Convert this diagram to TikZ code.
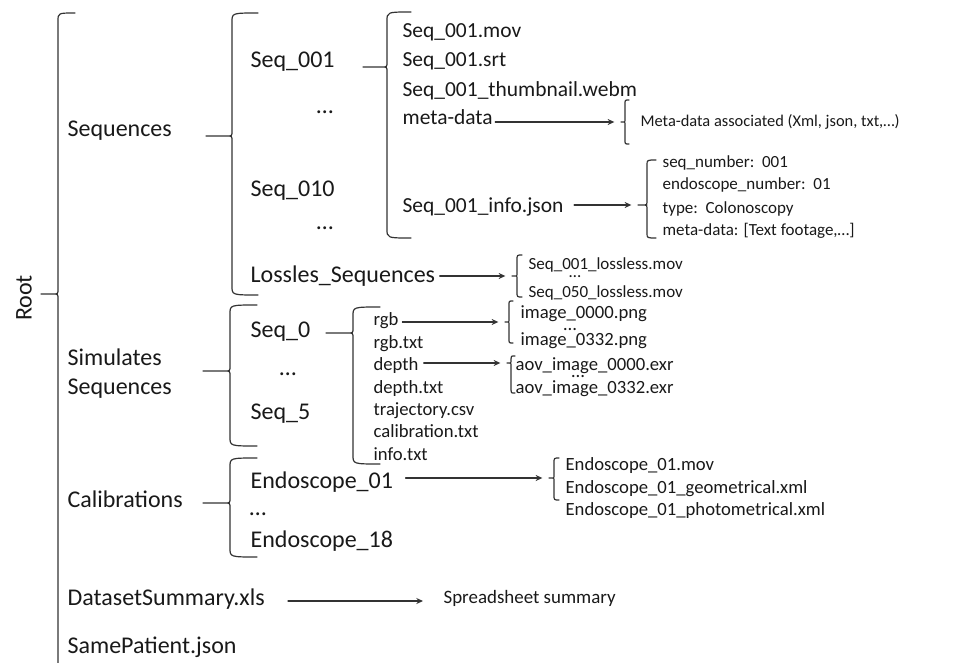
\documentclass[tikz,border=0pt]{standalone}
\usepackage{fontspec}
\setmainfont{Carlito}
\usetikzlibrary{arrows.meta}
% curly brace: name of tip, spine x, top y, tip y, bottom y, reach, end curl, tip curl
\newcommand{\curly}[8]{%
  \draw (#2+#6,#3) .. controls (#2,#3) .. (#2,#3+#7) -- (#2,#4-#8)
    .. controls (#2,#4) .. (#2-#8,#4) -- (#2-#6,#4) coordinate (#1) -- (#2-#8,#4)
    .. controls (#2,#4) .. (#2,#4+#8) -- (#2,#5-#7)
    .. controls (#2,#5) .. (#2+#6,#5);}
\begin{document}
\begin{tikzpicture}[x=0.75pt,y=-0.75pt,>={Stealth[length=5pt,width=4.5pt]},
  line join=round,line cap=round,line width=0.9pt,draw=black!80,
  txt/.style={anchor=base west,inner sep=0pt,text=black!90},
  big/.style={txt,font=\fontsize{18}{20}\selectfont},
  mid/.style={txt,font=\fontsize{16.1}{18}\selectfont},
  sml/.style={txt,font=\fontsize{14}{16}\selectfont},
  tny/.style={txt,font=\fontsize{12.75}{15}\selectfont},
  arr/.style={->,shorten >=5pt}]
\useasboundingbox (0,0) rectangle (974,663);
% braces
\curly{roottip}{58}{13}{294}{700}{17}{8}{5}
\curly{seqstip}{232}{13}{136}{295}{26}{9}{5}
\curly{seq1tip}{387}{12}{67}{238}{24}{9}{5}
\curly{metatip}{625}{100}{122}{144}{4}{4}{2}
\curly{infotip}{647}{160}{205}{238}{9}{5}{3}
\curly{losstip}{517}{255}{276}{297}{5}{5}{2}
\curly{simtip}{230}{305}{371}{446}{27}{9}{5}
\curly{seq0tip}{353}{307}{333}{464}{27}{9}{5}
\curly{rgbtip}{509}{301}{322}{343}{4}{4}{2}
\curly{depthtip}{511}{356}{363}{393}{4}{3}{2}
\curly{caltip}{230}{458}{503}{557}{27}{9}{5}
\curly{endotip}{554}{458}{478}{500}{5}{5}{2}
% level 0 and 1
\node[font=\fontsize{18}{20}\selectfont,rotate=90,text=black!90] (root) at (24,298) {Root};
\node[big] (seqs) at (67,137) {Sequences};
\node[big] (sim1) at (67,365) {Simulates};
\node[big] (sim2) at (67,394) {Sequences};
\node[big] (calib) at (67,507) {Calibrations};
\node[big] (summary) at (67,605) {DatasetSummary.xls};
\node[big] (samepat) at (67,653) {SamePatient.json};
% level 2
\node[big] (seq001) at (250,68) {Seq\_001};
\node[big,anchor=base] (dotsA) at (325,114) {…};
\node[big] (seq010) at (250,196) {Seq\_010};
\node[big,anchor=base] (dotsB) at (325,229) {…};
\node[big] (lossless) at (250,282) {Lossles\_Sequences};
\node[big] (seq0) at (250,337) {Seq\_0};
\node[big,anchor=base] (dotsC) at (288,375) {…};
\node[big] (seq5) at (250,419) {Seq\_5};
\node[big] (endo01) at (250,488) {Endoscope\_01};
\node[big,anchor=base] (dotsD) at (258,515) {…};
\node[big] (endo18) at (250,547) {Endoscope\_18};
% files of Seq_001
\node[mid] (mov) at (402,38) {Seq\_001.mov};
\node[mid] (srt) at (402,67) {Seq\_001.srt};
\node[mid] (thumb) at (402,97) {Seq\_001\_thumbnail.webm};
\node[mid] (meta) at (402,125) {meta-data};
\node[mid] (info) at (402,212) {Seq\_001\_info.json};
\node[tny,font=\fontsize{12.3}{15}\selectfont] (metadesc) at (640,127) {Meta-data associated (Xml, json, txt,…)};
\node[tny] (snum) at (662,167) {seq\_number:\ \ 001};
\node[tny] (enum) at (662,190) {endoscope\_number:\ \ 01};
\node[tny] (stype) at (662,213) {type:\ \ Colonoscopy};
\node[tny] (smeta) at (662,235) {meta-data: [Text footage,…]};
\node[tny] (lossA) at (528,269) {Seq\_001\_lossless.mov};
\node[tny,anchor=base] (lossdots) at (575,277) {…};
\node[tny] (lossB) at (528,297) {Seq\_050\_lossless.mov};
% files of Seq_0
\node[sml] (rgb) at (373,325) {rgb};
\node[sml] (rgbtxt) at (373,348) {rgb.txt};
\node[sml] (depth) at (373,370) {depth};
\node[sml] (depthtxt) at (373,393) {depth.txt};
\node[sml] (traj) at (373,415) {trajectory.csv};
\node[sml] (calibtxt) at (373,437) {calibration.txt};
\node[sml] (infotxt) at (373,460) {info.txt};
\node[sml] (imgA) at (520,318) {image\_0000.png};
\node[sml,anchor=base] (imgdots) at (570,330) {…};
\node[sml] (imgB) at (520,345) {image\_0332.png};
\node[sml] (aovA) at (515,370) {aov\_image\_0000.exr};
\node[sml,anchor=base] (aovdots) at (578,377) {…};
\node[sml] (aovB) at (515,393) {aov\_image\_0332.exr};
% files of Endoscope_01
\node[sml] (endomov) at (565,470) {Endoscope\_01.mov};
\node[sml] (endogeo) at (565,493) {Endoscope\_01\_geometrical.xml};
\node[sml] (endophoto) at (565,515) {Endoscope\_01\_photometrical.xml};
\node[tny,font=\fontsize{14.2}{16}\selectfont] (spread) at (443,603) {Spreadsheet summary};
% arrows
\draw[arr,shorten <=1.5pt] (meta.east |- metatip) -- (metatip);
\draw[arr,shorten <=7.5pt] (info.east |- infotip) -- (infotip);
\draw[arr,shorten <=3pt] (lossless.east |- losstip) -- (losstip);
\draw[arr,shorten <=2.5pt] (rgb.east |- rgbtip) -- (rgbtip);
\draw[arr,shorten <=3.5pt] (depth.east |- depthtip) -- (depthtip);
\draw[arr,shorten <=9pt] (endo01.east |- endotip) -- (endotip);
\draw[->,shorten <=17pt,shorten >=15pt] ([yshift=3pt]summary.base east) -- ([yshift=3pt]summary.base east -| spread.west);
\end{tikzpicture}
\end{document}
